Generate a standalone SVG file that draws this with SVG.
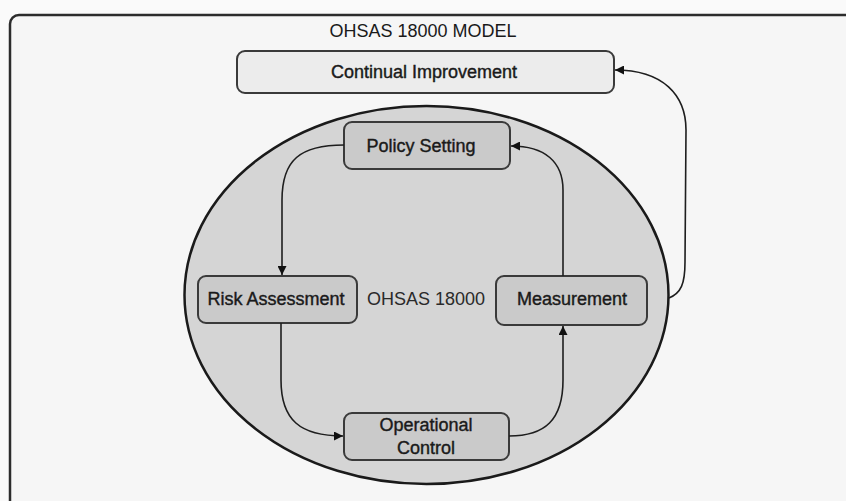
<svg xmlns="http://www.w3.org/2000/svg" width="846" height="501" viewBox="0 0 846 501">
  <defs>
    <style>
      .lbl { font-family: "Liberation Sans", Arial, sans-serif; font-size: 18px; fill: #1a1a1a; text-anchor: middle; stroke: #1a1a1a; stroke-width: 0.4; }
      .plain { font-family: "Liberation Sans", Arial, sans-serif; font-size: 18px; fill: #2a2a2a; text-anchor: middle; }
      .box { fill: #cacaca; stroke: #3a3a3a; stroke-width: 2; }
      .edge { fill: none; stroke: #1e1e1e; stroke-width: 1.6; }
    </style>
    <marker id="arrow" viewBox="0 0 10 10" refX="10" refY="5" markerWidth="9" markerHeight="9" markerUnits="userSpaceOnUse" orient="auto">
      <path d="M0,0 L10,5 L0,10 z" fill="#111"/>
    </marker>
  </defs>

  <!-- page background and outer frame -->
  <rect x="0" y="0" width="846" height="501" fill="#fafafa"/>
  <rect x="10" y="15" width="860" height="510" rx="9" fill="#f6f6f6" stroke="#2c2c2c" stroke-width="2.5"/>

  <g id="title">
    <text class="plain" x="423" y="37" style="fill:#1a1a1a">OHSAS 18000 MODEL</text>
  </g>

  <g id="continual-improvement">
    <rect x="237" y="51" width="377" height="42" rx="8" fill="#ececec" stroke="#3a3a3a" stroke-width="2"/>
    <text class="lbl" x="424" y="78">Continual Improvement</text>
  </g>

  <g id="ohsas-18000">
    <ellipse cx="426.5" cy="295" rx="242" ry="189" fill="#d5d5d5" stroke="#1a1a1a" stroke-width="2.5"/>
    <text class="plain" x="426" y="305">OHSAS 18000</text>
  </g>

  <g id="policy-setting">
    <rect class="box" x="344" y="122" width="166" height="47" rx="8"/>
    <text class="lbl" x="421" y="152">Policy Setting</text>
  </g>

  <g id="risk-assessment">
    <rect class="box" x="198" y="276" width="159" height="47" rx="8"/>
    <text class="lbl" x="276" y="305">Risk Assessment</text>
  </g>

  <g id="measurement">
    <rect class="box" x="496" y="276" width="151" height="49" rx="8"/>
    <text class="lbl" x="572" y="305">Measurement</text>
  </g>

  <g id="operational-control">
    <rect class="box" x="344" y="413" width="165" height="47" rx="8"/>
    <text class="lbl" x="426" y="431">Operational</text>
    <text class="lbl" x="426" y="454">Control</text>
  </g>

  <g id="connectors">
    <path class="edge" d="M344,145 C300,145 282,160 282,200 L282,275" marker-end="url(#arrow)"/>
    <path class="edge" d="M281,323 L281,380 C281,420 300,436 343,436" marker-end="url(#arrow)"/>
    <path class="edge" d="M509,436 C545,436 563,420 563,380 L563,326" marker-end="url(#arrow)"/>
    <path class="edge" d="M563,276 L563,190 C563,162 545,146 511,146" marker-end="url(#arrow)"/>
    <path class="edge" d="M669,298 C681,293 685,284 685,262 L686,130 C686,95 663,70 615,70" marker-end="url(#arrow)"/>
  </g>
</svg>
